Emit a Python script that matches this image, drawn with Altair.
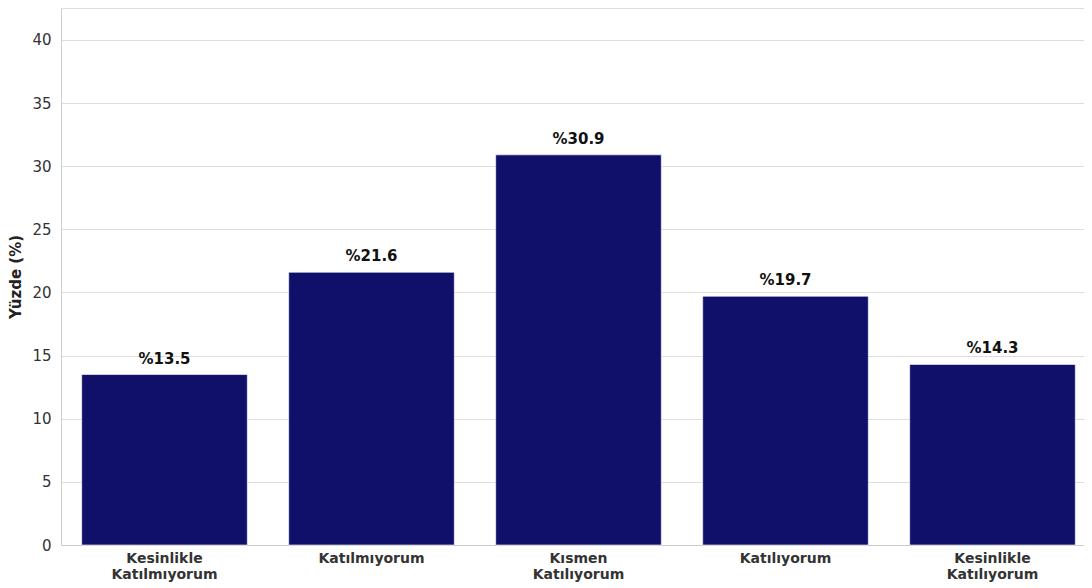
import altair as alt
import pandas as pd

categories = ["Kesinlikle Katılmıyorum", "Katılmıyorum", "Kısmen Katılıyorum", "Katılıyorum", "Kesinlikle Katılıyorum"]
values = [13.5, 21.6, 30.9, 19.7, 14.3]
value_labels = ["%13.5", "%21.6", "%30.9", "%19.7", "%14.3"]

df = pd.DataFrame({"cat": categories, "val": values, "lab": value_labels})

x = alt.X("cat:N", sort=categories, title=None,
          scale=alt.Scale(paddingInner=0.2, paddingOuter=0.1, range=[0, 1035]),
          axis=alt.Axis(labelAngle=0, labelExpr="split(datum.label, ' ')",
                        labelFont="DejaVu Sans", labelFontWeight="bold", labelFontSize=14,
                        labelColor="#333333", labelPadding=6, ticks=False,
                        domainColor="#cccccc", labelLineHeight=16))
y = alt.Y("val:Q", title="Yüzde (%)",
          scale=alt.Scale(domain=[0, 42.53], nice=False),
          axis=alt.Axis(values=[0, 5, 10, 15, 20, 25, 30, 35, 40], ticks=False,
                        labelFont="DejaVu Sans", labelFontSize=15, labelColor="#333333",
                        labelPadding=10, gridColor="#dddddd", domainColor="#cccccc",
                        titleFont="DejaVu Sans", titleFontSize=15, titleFontWeight="bold",
                        titleColor="#222222", titlePadding=8))

bars = alt.Chart(df).mark_bar(color="#10106B", stroke="#ffffff", strokeWidth=0.6).encode(x=x, y=y)
text = alt.Chart(df).mark_text(font="DejaVu Sans", fontWeight="bold", fontSize=15,
                               color="#111111", baseline="bottom", dy=-8).encode(
    x=alt.X("cat:N", sort=categories), y="val:Q", text="lab:N")

chart = (bars + text).properties(
    width=1023, height=537,
    autosize=alt.AutoSizeParams(type="none"),
    padding={"left": 53, "top": 0, "right": 0, "bottom": 43},
).configure_view(stroke="#dddddd")

chart.save("out.html", embed_options={"renderer": "svg", "actions": False})
